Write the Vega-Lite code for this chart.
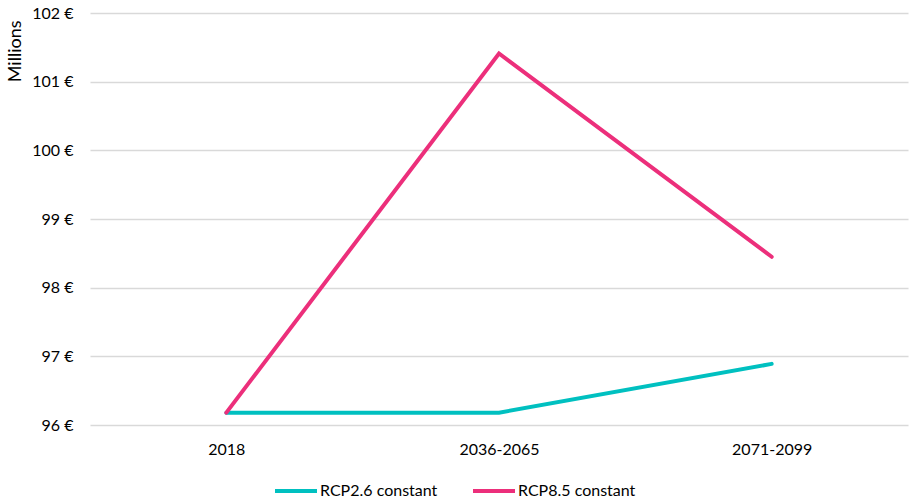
{
  "$schema": "https://vega.github.io/schema/vega-lite/v6.json",
  "width": 818,
  "height": 412,
  "autosize": {"type": "none"},
  "padding": {"left": 90, "top": 13, "right": 3, "bottom": 75},
  "background": "#ffffff",
  "config": {
    "font": "Lato",
    "view": {"stroke": null}
  },
  "data": {
    "values": [
      {"period": "2018", "scenario": "RCP2.6 constant", "value": 96.18},
      {"period": "2036-2065", "scenario": "RCP2.6 constant", "value": 96.18},
      {"period": "2071-2099", "scenario": "RCP2.6 constant", "value": 96.89},
      {"period": "2018", "scenario": "RCP8.5 constant", "value": 96.18},
      {"period": "2036-2065", "scenario": "RCP8.5 constant", "value": 101.41},
      {"period": "2071-2099", "scenario": "RCP8.5 constant", "value": 98.45}
    ]
  },
  "mark": {"type": "line", "strokeWidth": 4, "strokeCap": "round", "strokeJoin": "miter"},
  "encoding": {
    "x": {
      "field": "period",
      "type": "ordinal",
      "sort": null,
      "scale": {"type": "point", "padding": 0.5},
      "axis": {
        "title": null,
        "domain": false,
        "ticks": false,
        "grid": false,
        "labelAngle": 0,
        "labelFontSize": 16,
        "labelColor": "#000000",
        "labelPadding": 16
      }
    },
    "y": {
      "field": "value",
      "type": "quantitative",
      "scale": {"domain": [96, 102], "nice": false, "zero": false},
      "axis": {
        "title": "Millions",
        "titleFontSize": 18,
        "titleFontWeight": "normal",
        "titleColor": "#000000",
        "titleAnchor": "end",
        "titleX": -75,
        "titleY": 7,
        "titleAlign": "right",
        "titleBaseline": "middle",
        "values": [96, 97, 98, 99, 100, 101, 102],
        "labelExpr": "datum.value + ' €'",
        "labelFontSize": 16,
        "labelColor": "#000000",
        "labelPadding": 17,
        "domain": false,
        "ticks": false,
        "gridColor": "#D9D9D9",
        "gridWidth": 1.5
      }
    },
    "color": {
      "field": "scenario",
      "type": "nominal",
      "scale": {"range": ["#00C0C0", "#EC2F7B"]},
      "legend": {
        "title": null,
        "orient": "none",
        "direction": "horizontal",
        "legendX": 183,
        "legendY": 455,
        "symbolType": "stroke",
        "symbolSize": 1764,
        "symbolStrokeWidth": 4,
        "labelFontSize": 16,
        "labelColor": "#000000",
        "labelOffset": 1,
        "columnPadding": 27
      }
    }
  }
}
